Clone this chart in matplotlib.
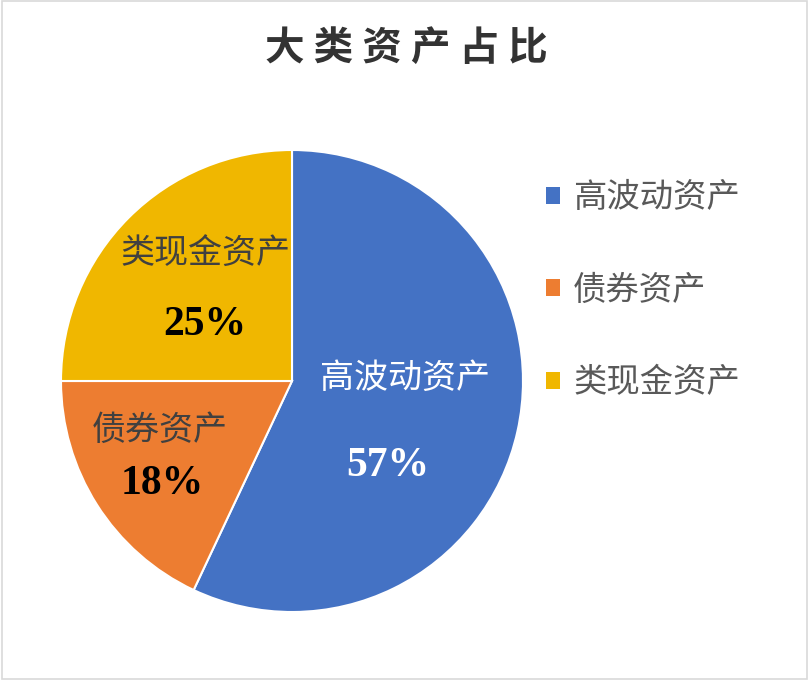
import matplotlib
matplotlib.use("Agg")
import matplotlib.pyplot as plt
from matplotlib.patches import Rectangle

plt.rcParams['font.family'] = ['Noto Sans CJK SC', 'DejaVu Sans']

# 数据
categorias = ["高波动资产", "债券资产", "类现金资产"]
porcentajes = [57, 18, 25]
colores = ["#4472C4", "#ED7D31", "#F0B700"]
titulo = "大类资产占比"

fig = plt.figure(figsize=(8.09, 6.8), dpi=100)
fig.patch.set_facecolor("white")

# marco gris
fig.add_artist(Rectangle((0.002, 0.002), 0.996, 0.996, transform=fig.transFigure,
                         fill=False, edgecolor="#D9D9D9", linewidth=1.2))

cx, cy, r = 292, 680 - 381, 231
ax = fig.add_axes([(cx - r) / 809, (cy - r) / 680, 2 * r / 809, 2 * r / 680])

wedges, _ = ax.pie(porcentajes, colors=colores, startangle=90, counterclock=False,
                   radius=1, wedgeprops=dict(edgecolor="white", linewidth=1.5))
ax.set_xlim(-1, 1)
ax.set_ylim(-1, 1)
ax.set_aspect("equal")
ax.axis("off")

# posiciones de etiquetas (nombre, porcentaje)
pos_nombre = [(0.489, 0.013), (-0.571, -0.212), (-0.377, 0.554)]
pos_pct = [(0.416, -0.368), (-0.563, -0.446), (-0.377, 0.242)]
col_nombre = ["white", "#404040", "#404040"]
col_pct = ["white", "black", "black"]

for i in range(len(categorias)):
    ax.text(pos_nombre[i][0], pos_nombre[i][1], categorias[i], ha="center", va="center",
            fontsize=24.5, color=col_nombre[i])
    ax.text(pos_pct[i][0], pos_pct[i][1], f"{porcentajes[i]}%", ha="center", va="center",
            fontsize=30, color=col_pct[i], fontweight="bold", family="Liberation Serif")

fig.text(406 / 809, 1 - 48 / 680, " ".join(titulo), ha="center", va="center",
         fontsize=28.5, color="#333333", fontweight="bold")

leg = fig.legend(wedges, categorias, loc="upper left", bbox_to_anchor=(533 / 809, 1 - 167 / 680),
                 frameon=False, fontsize=24, labelspacing=1.72, handlelength=0.4,
                 handleheight=0.4, handletextpad=0.4, borderaxespad=0)
for t in leg.get_texts():
    t.set_color("#595959")
for h in leg.legend_handles:
    h.set_edgecolor("none")

fig.savefig("out.png", dpi=100)
